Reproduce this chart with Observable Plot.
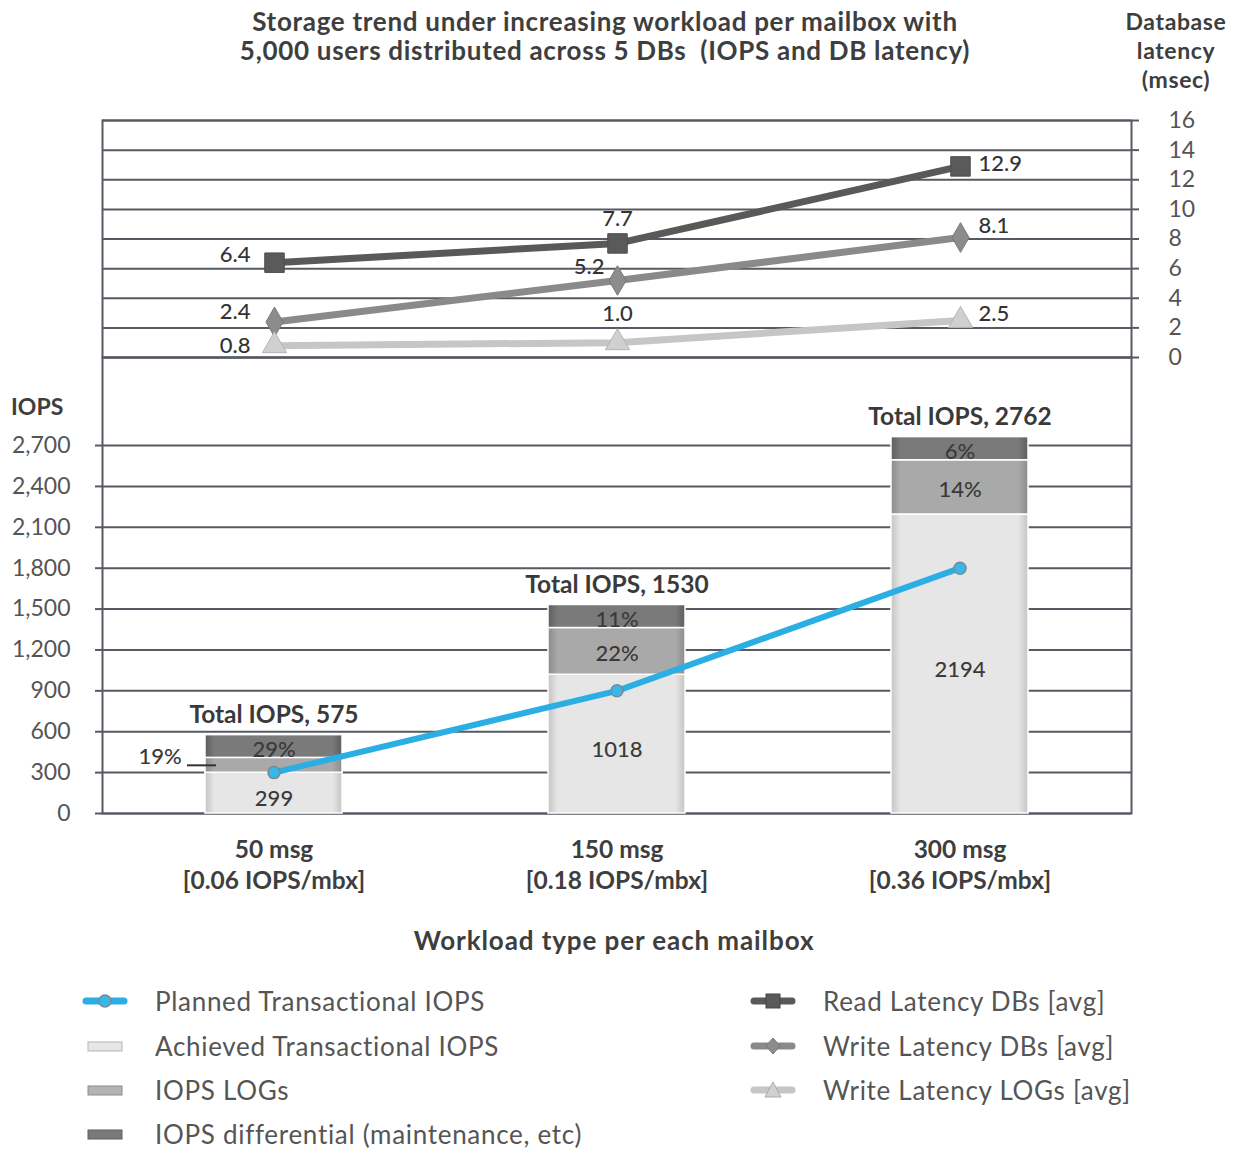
<!DOCTYPE html>
<html>
<head>
<meta charset="utf-8">
<script src="https://cdn.jsdelivr.net/npm/d3@7"></script>
<script src="https://cdn.jsdelivr.net/npm/@observablehq/plot@0.6"></script>
<style>
  html, body { margin: 0; padding: 0; background: #fff; }
  #wrap { position: relative; width: 1236px; height: 1149px; font-family: Lato, "Open Sans", sans-serif; color: #444; overflow: hidden; }
  .abs { position: absolute; }
  .title { left: 130px; width: 950px; top: 7px; text-align: center; font-size: 26px; font-weight: 700; line-height: 29px; color: #3e3e3e; letter-spacing: 0.7px; }
  .rtitle { left: 1106px; width: 140px; top: 7px; text-align: center; font-size: 23px; font-weight: 700; line-height: 29px; color: #3e3e3e; letter-spacing: 0.6px; }
  .ylab { left: 11px; top: 392px; font-size: 23px; font-weight: 700; color: #3e3e3e; }
  .xlab { left: 264px; width: 700px; top: 924px; text-align: center; font-size: 26px; font-weight: 700; color: #3e3e3e; letter-spacing: 0.9px; }
  .leg { display: flex; align-items: center; font-size: 26px; color: #555; letter-spacing: 0.7px; white-space: nowrap; }
  .leg svg { margin-right: 27px; flex: none; }
</style>
</head>
<body>
<div id="wrap">
  <div class="abs title">Storage trend under increasing workload per mailbox with<br>5,000 users distributed across 5 DBs&nbsp; (IOPS and DB latency)</div>
  <div class="abs rtitle">Database<br>latency<br>(msec)</div>
  <div class="abs ylab">IOPS</div>
  <div class="abs xlab">Workload type per each mailbox</div>
</div>
<script>
// ---------- data ----------
const categories = ["50 msg", "150 msg", "300 msg"];
const categorySub = ["[0.06 IOPS/mbx]", "[0.18 IOPS/mbx]", "[0.36 IOPS/mbx]"];
const totalIOPS = [575, 1530, 2762];
const achievedIOPS = [299, 1018, 2194];
const logsIOPS = [109, 343, 398];
const differentialIOPS = [167, 169, 170];
const plannedIOPS = [300, 900, 1800];
const readLatency = [6.4, 7.7, 12.9];
const writeLatencyDB = [2.4, 5.2, 8.1];
const writeLatencyLogs = [0.8, 1.0, 2.5];
const iopsTicks = [0, 300, 600, 900, 1200, 1500, 1800, 2100, 2400, 2700];
const latencyTicks = [0, 2, 4, 6, 8, 10, 12, 14, 16];
const seriesNames = ["Achieved Transactional IOPS", "IOPS LOGs", "IOPS differential (maintenance, etc)"];

// ---------- constants ----------
const W = 1236, ML = 102, MR = 105;
const GRID = "#565b63";
const wrap = document.getElementById("wrap");

// ---------- bottom (IOPS) chart ----------
const segs = categories.flatMap((c, i) => {
  const a = achievedIOPS[i], l = logsIOPS[i], d = differentialIOPS[i], t = totalIOPS[i];
  return [
    {cat: c, s: seriesNames[0], y1: 0, y2: a, label: String(a)},
    {cat: c, s: seriesNames[1], y1: a, y2: a + l, label: Math.round(l / t * 100) + "%"},
    {cat: c, s: seriesNames[2], y1: a + l, y2: a + l + d, label: Math.round(d / t * 100) + "%"}
  ];
});
const yTop = 3346; // so that 0..2700 grid sits under the latency panel
const pxPerUnit = 456 / yTop;
const inside = segs.filter(d => (d.y2 - d.y1) * pxPerUnit >= 18);
const insideAch = inside.filter(d => d.s === seriesNames[0]);
const insidePct = inside.filter(d => d.s !== seriesNames[0]);
const outside = segs.filter(d => (d.y2 - d.y1) * pxPerUnit < 18);
const totals = categories.map((c, i) => ({cat: c, v: totalIOPS[i]}));
const planned = categories.map((c, i) => ({cat: c, v: plannedIOPS[i]}));
const mid = d => (d.y1 + d.y2) / 2;
const labelStyle = {fontSize: 22, fill: "#3a3a3a", fontWeight: 500};

const bottomChart = Plot.plot({
  width: W, height: 563,
  marginLeft: ML, marginRight: MR, marginTop: 17, marginBottom: 90,
  style: {background: "transparent", overflow: "visible", color: GRID, fontFamily: "Lato, sans-serif"},
  x: {type: "band", domain: categories, paddingInner: 0.6, paddingOuter: 0.3, label: null},
  y: {domain: [0, yTop], label: null},
  color: {domain: seriesNames, range: ["url(#gAch)", "url(#gLog)", "url(#gDif)"]},
  marks: [
    Plot.ruleY(iopsTicks, {stroke: GRID, strokeWidth: 2}),
    Plot.frame({stroke: GRID, strokeWidth: 2}),
    Plot.axisY({ticks: iopsTicks, tickSize: 7, tickPadding: 25, tickFormat: d3.format(","), fontSize: 23, fill: "#555", stroke: GRID, strokeWidth: 2, label: null}),
    Plot.axisX({tickSize: 0, tickPadding: 23, fontSize: 24.5, fontWeight: 700, fill: "#3e3e3e", lineHeight: 1.25,
      tickFormat: d => d + "\n" + categorySub[categories.indexOf(d)], label: null}),
    Plot.barY(segs, {x: "cat", y1: "y1", y2: "y2", fill: "s", stroke: "#fff", strokeWidth: 1.5}),
    Plot.text(insideAch, {x: "cat", y: mid, text: "label", dy: 6, ...labelStyle}),
    Plot.text(insidePct, {x: "cat", y: mid, text: "label", dy: 3, ...labelStyle}),
    Plot.text(outside, {x: "cat", y: mid, text: "label", dx: -114, dy: -8, textAnchor: "middle", ...labelStyle}),
    Plot.tickY(outside, {x: "cat", y: mid, stroke: "#333", strokeWidth: 2, dx: -18, insetRight: 108}),
    Plot.text(totals, {x: "cat", y: "v", text: d => "Total IOPS, " + d.v, dy: -20, fontSize: 24.5, fontWeight: 700, fill: "#3a3a3a"}),
    Plot.line(planned, {x: "cat", y: "v", stroke: "#2aaee3", strokeWidth: 6}),
    Plot.dot(planned, {x: "cat", y: "v", r: 6, fill: "#38b8ea", stroke: "#7a8a95", strokeWidth: 1.5})
  ]
});
Object.assign(bottomChart.style, {position: "absolute", left: "0px", top: "340px"});
bottomChart.insertAdjacentHTML("afterbegin", `<defs>
  <linearGradient id="gAch" x1="0" x2="1" y1="0" y2="0">
    <stop offset="0" stop-color="#c4c4c4"/><stop offset="0.07" stop-color="#e6e6e6"/>
    <stop offset="0.93" stop-color="#e6e6e6"/><stop offset="1" stop-color="#c4c4c4"/></linearGradient>
  <linearGradient id="gLog" x1="0" x2="1" y1="0" y2="0">
    <stop offset="0" stop-color="#8c8c8c"/><stop offset="0.07" stop-color="#a9a9a9"/>
    <stop offset="0.93" stop-color="#a9a9a9"/><stop offset="1" stop-color="#8c8c8c"/></linearGradient>
  <linearGradient id="gDif" x1="0" x2="1" y1="0" y2="0">
    <stop offset="0" stop-color="#5e5e5e"/><stop offset="0.07" stop-color="#7a7a7a"/>
    <stop offset="0.93" stop-color="#7a7a7a"/><stop offset="1" stop-color="#5e5e5e"/></linearGradient>
</defs>`);
wrap.appendChild(bottomChart);

// ---------- top (latency) chart ----------
const latSeries = [
  {name: "Read Latency DBs [avg]", vals: readLatency, stroke: "#595959", fill: "#5a5a5a", symbol: "square", r: 11},
  {name: "Write Latency DBs [avg]", vals: writeLatencyDB, stroke: "#8a8a8a", fill: "#8c8c8c", symbol: "diamond", r: 9},
  {name: "Write Latency LOGs [avg]", vals: writeLatencyLogs, stroke: "#c6c6c6", fill: "#d0d0d0", symbol: "triangle", r: 9}
];
const latRows = latSeries.flatMap(s => categories.map((c, i) => ({cat: c, v: s.vals[i], s: s.name, i})));
// label placement per series: [dx, dy, anchor] for first / middle / last point
const place = {
  "Read Latency DBs [avg]": [[-24, -8, "end"], [0, -24, "middle"], [18, -2, "start"]],
  "Write Latency DBs [avg]": [[-24, -10, "end"], [-13, -14, "end"], [18, -12, "start"]],
  "Write Latency LOGs [avg]": [[-24, 0, "end"], [0, -29, "middle"], [18, -7, "start"]]
};
const labelMarks = latRows.map(d => {
  const [dx, dy, ta] = place[d.s][d.i];
  return Plot.text([d], {x: "cat", y: "v", text: r => r.v.toFixed(1), dx, dy, textAnchor: ta, fontSize: 22, fontWeight: 500, fill: "#333"});
});

const topChart = Plot.plot({
  width: W, height: 267,
  marginLeft: ML, marginRight: MR, marginTop: 20, marginBottom: 10,
  style: {background: "transparent", overflow: "visible", color: GRID, fontFamily: "Lato, sans-serif"},
  x: {type: "point", domain: categories, padding: 0.5, axis: null},
  y: {domain: [0, 16], label: null},
  marks: [
    Plot.ruleY(latencyTicks, {stroke: GRID, strokeWidth: 2}),
    Plot.frame({stroke: GRID, strokeWidth: 2}),
    Plot.axisY({anchor: "right", ticks: latencyTicks, tickSize: 7, tickPadding: 30, fontSize: 23, fill: "#555", stroke: GRID, strokeWidth: 2, label: null}),
    ...latSeries.map(s => Plot.line(latRows.filter(d => d.s === s.name), {x: "cat", y: "v", stroke: s.stroke, strokeWidth: 7})),
    ...latSeries.map(s => Plot.dot(latRows.filter(d => d.s === s.name), {x: "cat", y: "v", symbol: s.symbol, r: s.r, fill: s.fill, stroke: d3.color(s.fill).darker(0.4).formatHex(), strokeWidth: 1})),
    ...labelMarks
  ]
});
Object.assign(topChart.style, {position: "absolute", left: "0px", top: "100px"});
wrap.appendChild(topChart);

// ---------- legend ----------
function swatch(kind) {
  const s = {
    planned: `<line x1="4" y1="10" x2="42" y2="10" stroke="#2aaee3" stroke-width="7" stroke-linecap="round"/><circle cx="23" cy="10" r="6" fill="#38b8ea" stroke="#7a8a95" stroke-width="1.5"/>`,
    ach: `<rect x="6" y="6" width="34" height="9" fill="#e6e6e6" stroke="#b5b5b5"/>`,
    log: `<rect x="6" y="6" width="34" height="9" fill="#b3b3b3" stroke="#8c8c8c"/>`,
    dif: `<rect x="6" y="6" width="34" height="9" fill="#7a7a7a" stroke="#5e5e5e"/>`,
    read: `<line x1="4" y1="10" x2="42" y2="10" stroke="#595959" stroke-width="7" stroke-linecap="round"/><rect x="16" y="3" width="14" height="14" fill="#5a5a5a" stroke="#444"/>`,
    wdb: `<line x1="4" y1="10" x2="42" y2="10" stroke="#8a8a8a" stroke-width="7" stroke-linecap="round"/><path d="M23 2 L30 10 L23 18 L16 10 Z" fill="#8c8c8c" stroke="#777"/>`,
    wlog: `<line x1="4" y1="10" x2="42" y2="10" stroke="#c6c6c6" stroke-width="7" stroke-linecap="round"/><path d="M23 2 L31 17 L15 17 Z" fill="#d0d0d0" stroke="#aaa"/>`
  }[kind];
  return `<svg width="46" height="20" viewBox="0 0 46 20">${s}</svg>`;
}
const legendLeft = [["planned", "Planned Transactional IOPS"], ["ach", seriesNames[0]], ["log", seriesNames[1]], ["dif", seriesNames[2]]];
const legendRight = [["read", latSeries[0].name], ["wdb", latSeries[1].name], ["wlog", latSeries[2].name]];
const rowY = [1001, 1046, 1090, 1134];
legendLeft.forEach(([k, t], i) => {
  const d = document.createElement("div");
  d.className = "abs leg";
  d.style.left = "82px"; d.style.top = (rowY[i] - 16) + "px"; d.style.height = "32px";
  d.innerHTML = swatch(k) + `<span>${t}</span>`;
  wrap.appendChild(d);
});
legendRight.forEach(([k, t], i) => {
  const d = document.createElement("div");
  d.className = "abs leg";
  d.style.left = "750px"; d.style.top = (rowY[i] - 16) + "px"; d.style.height = "32px";
  d.innerHTML = swatch(k) + `<span>${t}</span>`;
  wrap.appendChild(d);
});
</script>
</body>
</html>
